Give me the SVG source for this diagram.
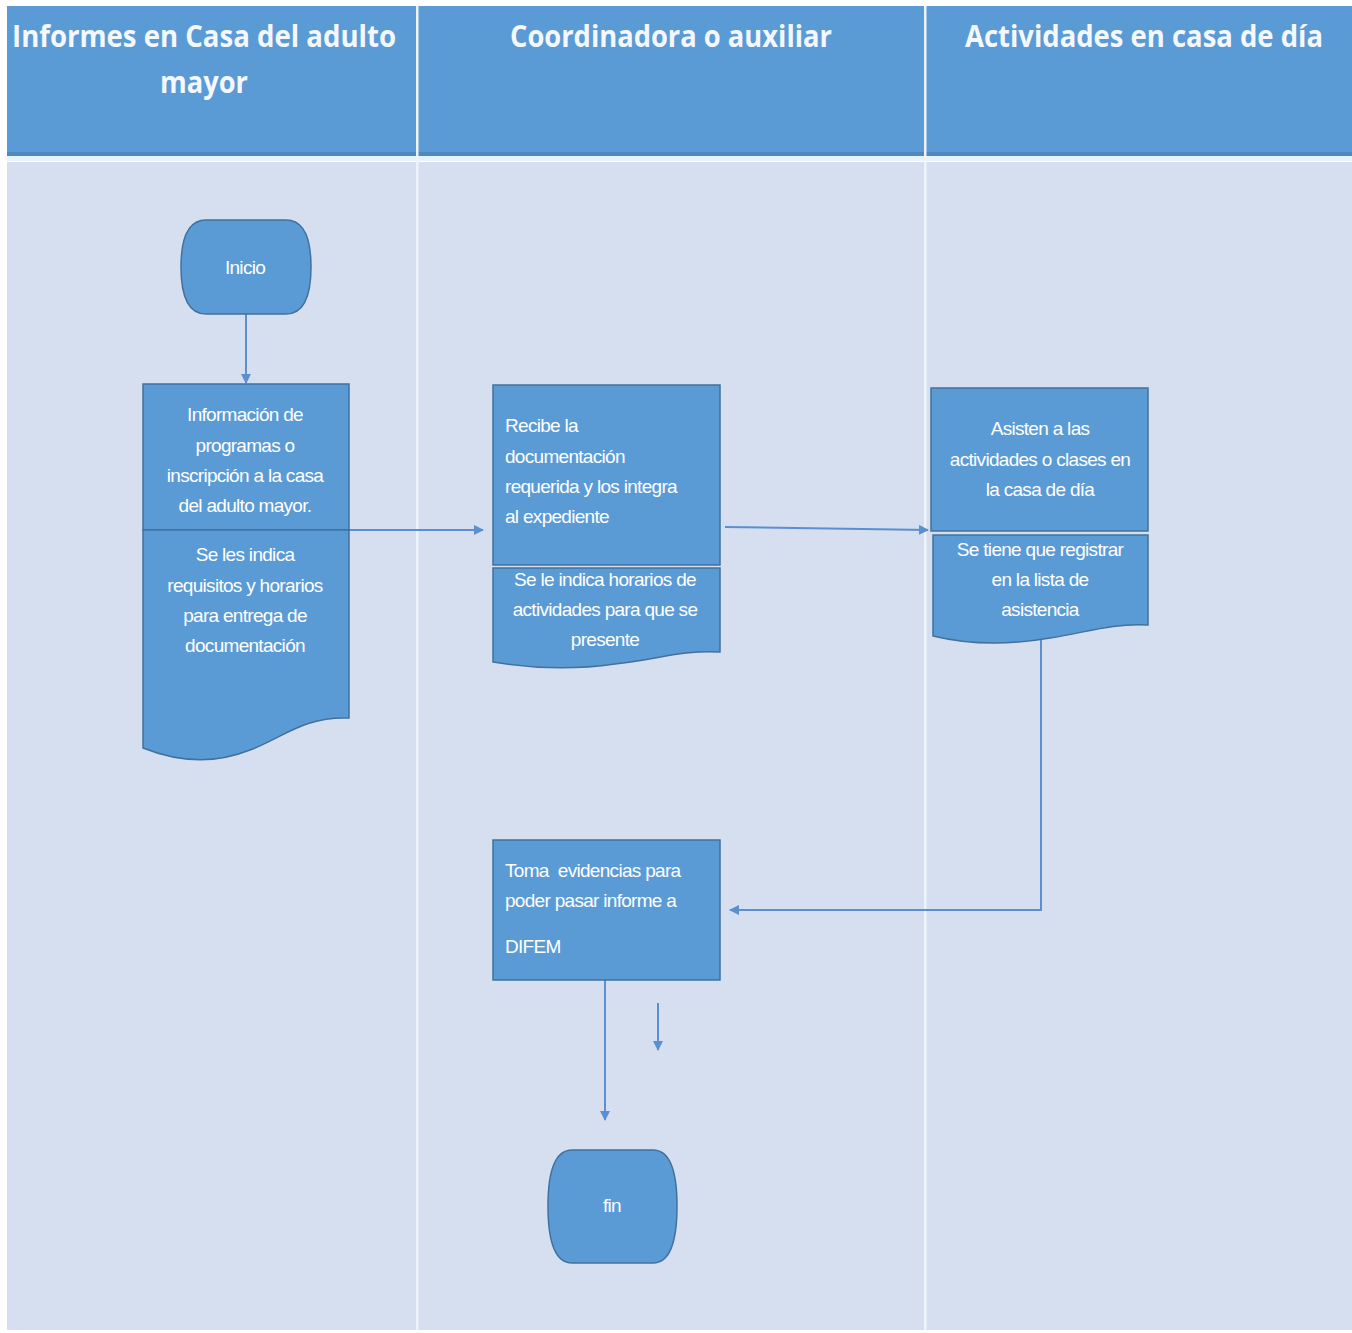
<svg xmlns="http://www.w3.org/2000/svg" width="1352" height="1333" viewBox="0 0 1352 1333">
<style>
.hdr{font-family:"Open Sans","Liberation Sans",sans-serif;font-weight:bold;font-size:30px;fill:#f4f8fd;text-anchor:middle}
.t{font-family:"Liberation Sans","DejaVu Sans",sans-serif;font-size:19px;fill:#ffffff;letter-spacing:-0.7px}
.c{text-anchor:middle}
.node{fill:#5b9bd5;stroke:#41719c;stroke-width:1.5}
.con{fill:none;stroke:#5b8fd0;stroke-width:2}
</style>
<defs>
<marker id="ah" viewBox="0 0 10 10" refX="9" refY="5" markerWidth="5" markerHeight="5" orient="auto">
<path d="M0,0 L10,5 L0,10 Z" fill="#5b8fd0"/>
</marker>
</defs>
<rect x="0" y="0" width="1352" height="1333" fill="#ffffff"/>
<g id="lanes">
<rect x="7" y="162" width="1345" height="1168" fill="#d5dfef"/>
<rect x="7" y="6" width="1345" height="150" fill="#5b9bd5"/>
<rect x="7" y="152" width="1345" height="4" fill="#5089c2"/>
<rect x="7" y="156" width="1345" height="5" fill="#e8f2fb"/>
<rect x="416" y="6" width="2.5" height="1324" fill="#edf3fb"/>
<rect x="924" y="6" width="2.5" height="1324" fill="#edf3fb"/>
<text class="hdr" x="204" y="47" textLength="384" lengthAdjust="spacingAndGlyphs">Informes en Casa del adulto</text>
<text class="hdr" x="204" y="93" textLength="88" lengthAdjust="spacingAndGlyphs">mayor</text>
<text class="hdr" x="671" y="47" textLength="322" lengthAdjust="spacingAndGlyphs">Coordinadora o auxiliar</text>
<text class="hdr" x="1144" y="47" textLength="358" lengthAdjust="spacingAndGlyphs">Actividades en casa de día</text>
</g>
<g id="connectors">
<line class="con" x1="246" y1="314" x2="246" y2="383" marker-end="url(#ah)"/>
<line class="con" x1="349" y1="530" x2="483" y2="530" marker-end="url(#ah)"/>
<line class="con" x1="725" y1="527" x2="928" y2="530" marker-end="url(#ah)"/>
<polyline class="con" points="1041,640 1041,910 730,910" marker-end="url(#ah)"/>
<line class="con" x1="605" y1="980" x2="605" y2="1120" marker-end="url(#ah)"/>
<line class="con" x1="658" y1="1003" x2="658" y2="1050" marker-end="url(#ah)"/>
</g>
<g id="inicio">
<path class="node" d="M206,220 H286 Q311,220 311,267 Q311,314 286,314 H206 Q181,314 181,267 Q181,220 206,220 Z"/>
<text class="t c" x="245" y="274">Inicio</text>
</g>
<g id="informacion">
<rect class="node" x="143" y="384" width="206" height="146"/>
<path class="node" d="M143,530 H349 V718 C305,716 282,738 250,750 C215,764 178,762 143,748 Z"/>
<text class="t c" x="245" y="421">Información de</text>
<text class="t c" x="245" y="452">programas o</text>
<text class="t c" x="245" y="482">inscripción a la casa</text>
<text class="t c" x="245" y="512">del adulto mayor.</text>
<text class="t c" x="245" y="561">Se les indica</text>
<text class="t c" x="245" y="592">requisitos y horarios</text>
<text class="t c" x="245" y="622">para entrega de</text>
<text class="t c" x="245" y="652">documentación</text>
</g>
<g id="recibe">
<rect class="node" x="493" y="385" width="227" height="180"/>
<path class="node" d="M493,568 H720 V652 C680,650 655,660 615,664 C580,669 540,670 493,662 Z"/>
<text class="t" x="505" y="432">Recibe la</text>
<text class="t" x="505" y="463">documentación</text>
<text class="t" x="505" y="493">requerida y los integra</text>
<text class="t" x="505" y="523">al expediente</text>
<text class="t c" x="605" y="586">Se le indica horarios de</text>
<text class="t c" x="605" y="616">actividades para que se</text>
<text class="t c" x="605" y="646">presente</text>
</g>
<g id="asisten">
<rect class="node" x="931" y="388" width="217" height="143"/>
<path class="node" d="M933,535 H1148 V625 C1110,623 1085,633 1050,638 C1010,645 970,645 933,636 Z"/>
<text class="t c" x="1040" y="435">Asisten a las</text>
<text class="t c" x="1040" y="466">actividades o clases en</text>
<text class="t c" x="1040" y="496">la casa de día</text>
<text class="t c" x="1040" y="556">Se tiene que registrar</text>
<text class="t c" x="1040" y="586">en la lista de</text>
<text class="t c" x="1040" y="616">asistencia</text>
</g>
<g id="toma">
<rect class="node" x="493" y="840" width="227" height="140"/>
<text class="t" x="505" y="877" xml:space="preserve">Toma  evidencias para</text>
<text class="t" x="505" y="907">poder pasar informe a</text>
<text class="t" x="505" y="953">DIFEM</text>
</g>
<g id="fin">
<path class="node" d="M572,1150 H653 Q677,1150 677,1206 Q677,1263 653,1263 H572 Q548,1263 548,1206 Q548,1150 572,1150 Z"/>
<text class="t c" x="612" y="1212">fin</text>
</g>
</svg>
